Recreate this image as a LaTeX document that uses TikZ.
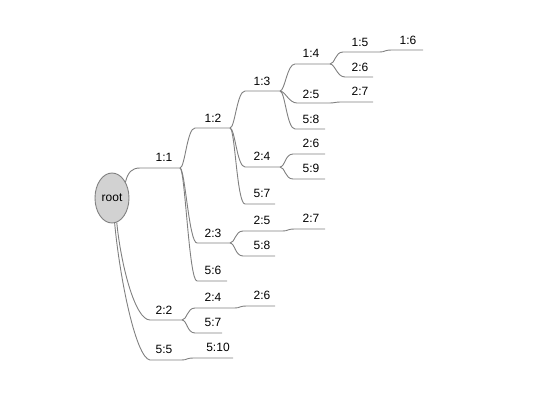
\documentclass[tikz,border=0pt]{standalone}
\usepackage{fontspec}
\setmainfont{Liberation Sans}
\usetikzlibrary{shapes.geometric}
\begin{document}
\begin{tikzpicture}[x=1pt,y=-1pt,
  lbl/.style={font=\fontsize{12}{14}\selectfont, text=black, inner sep=0pt},
  wire/.style={draw=gray, line width=0.9pt},
  branch/.style={to path={.. controls ([xshift=5pt]\tikztostart) and ([xshift=-8pt]\tikztotarget) .. (\tikztotarget) \tikztonodes}},
  rootnode/.style={ellipse, draw=gray, fill=gray!35, line width=0.9pt, minimum width=34pt, minimum height=50pt, inner sep=0pt, font=\fontsize{12}{14}\selectfont}
]
\useasboundingbox (0,0) rectangle (539,408);
\node[rootnode] (root) at (112,198) {root};

% start / end coordinates of each underline
\coordinate (sA) at (140,168); \coordinate (eA) at (180,168);
\coordinate (sB) at (195,128); \coordinate (eB) at (230,128);
\coordinate (sC) at (245,91);  \coordinate (eC) at (280,91);
\coordinate (sD) at (295,64);  \coordinate (eD) at (330,64);
\coordinate (sE) at (343,52);  \coordinate (eE) at (380,52);
\coordinate (sF) at (392,50);  \coordinate (eF) at (423,50);
\coordinate (sG) at (345,77);  \coordinate (eG) at (373,77);
\coordinate (sH) at (297,103); \coordinate (eH) at (330,103);
\coordinate (sI) at (342,102); \coordinate (eI) at (373,102);
\coordinate (sJ) at (295,129); \coordinate (eJ) at (325,129);
\coordinate (sK) at (245,167); \coordinate (eK) at (280,167);
\coordinate (sL) at (293,154); \coordinate (eL) at (325,154);
\coordinate (sM) at (293,179); \coordinate (eM) at (325,179);
\coordinate (sN) at (245,204); \coordinate (eN) at (275,204);
\coordinate (sO) at (197,243); \coordinate (eO) at (230,243);
\coordinate (sP) at (243,231); \coordinate (eP) at (283,231);
\coordinate (sQ) at (295,229); \coordinate (eQ) at (325,229);
\coordinate (sR) at (243,256); \coordinate (eR) at (275,256);
\coordinate (sS) at (197,281); \coordinate (eS) at (227,281);
\coordinate (sT) at (150,320); \coordinate (eT) at (182,320);
\coordinate (sU) at (195,308); \coordinate (eU) at (235,308);
\coordinate (sV) at (247,306); \coordinate (eV) at (275,306);
\coordinate (sW) at (195,333); \coordinate (eW) at (222,333);
\coordinate (sX) at (150,360); \coordinate (eX) at (182,360);
\coordinate (sY) at (194,358); \coordinate (eY) at (233,358);

% labels
\node[lbl] (nA) at (164,157) {1:1};
\node[lbl] (nB) at (213,118) {1:2};
\node[lbl] (nC) at (262,81) {1:3};
\node[lbl] (nD) at (311,53) {1:4};
\node[lbl] (nE) at (360,42) {1:5};
\node[lbl] (nF) at (408,40) {1:6};
\node[lbl] (nG) at (360,67) {2:6};
\node[lbl] (nH) at (311,94) {2:5};
\node[lbl] (nI) at (360,91) {2:7};
\node[lbl] (nJ) at (311,119) {5:8};
\node[lbl] (nK) at (262,156) {2:4};
\node[lbl] (nL) at (311,143) {2:6};
\node[lbl] (nM) at (311,168) {5:9};
\node[lbl] (nN) at (262,193) {5:7};
\node[lbl] (nO) at (213,233) {2:3};
\node[lbl] (nP) at (262,220) {2:5};
\node[lbl] (nQ) at (311,218) {2:7};
\node[lbl] (nR) at (262,245) {5:8};
\node[lbl] (nS) at (213,270) {5:6};
\node[lbl] (nT) at (164,310) {2:2};
\node[lbl] (nU) at (213,297) {2:4};
\node[lbl] (nV) at (262,295) {2:6};
\node[lbl] (nW) at (213,322) {5:7};
\node[lbl] (nX) at (164,349) {5:5};
\node[lbl] (nY) at (218,347) {5:10};

% connectors from root
\draw[wire] (root.50) .. controls (128,172) and (132,168) .. (sA) -- (eA);
\draw[wire] (root.281) .. controls (121,265) and (135,320) .. (sT) -- (eT);
\draw[wire] (root.276) .. controls (120,280) and (136,358) .. (sX) -- (eX);

% connectors between topics
\draw[wire] (eA) to[branch] (sB) -- (eB);
\draw[wire] (eB) to[branch] (sC) -- (eC);
\draw[wire] (eC) to[branch] (sD) -- (eD);
\draw[wire] (eD) to[branch] (sE) -- (eE);
\draw[wire] (eE) to[branch] (sF) -- (eF);
\draw[wire] (eD) to[branch] (sG) -- (eG);
\draw[wire] (eC) to[branch] (sH) -- (eH);
\draw[wire] (eH) to[branch] (sI) -- (eI);
\draw[wire] (eC) to[branch] (sJ) -- (eJ);
\draw[wire] (eB) to[branch] (sK) -- (eK);
\draw[wire] (eK) to[branch] (sL) -- (eL);
\draw[wire] (eK) to[branch] (sM) -- (eM);
\draw[wire] (eB) to[branch] (sN) -- (eN);
\draw[wire] (eA) to[branch] (sO) -- (eO);
\draw[wire] (eO) to[branch] (sP) -- (eP);
\draw[wire] (eP) to[branch] (sQ) -- (eQ);
\draw[wire] (eO) to[branch] (sR) -- (eR);
\draw[wire] (eA) to[branch] (sS) -- (eS);
\draw[wire] (eT) to[branch] (sU) -- (eU);
\draw[wire] (eU) to[branch] (sV) -- (eV);
\draw[wire] (eT) to[branch] (sW) -- (eW);
\draw[wire] (eX) to[branch] (sY) -- (eY);
\end{tikzpicture}
\end{document}
